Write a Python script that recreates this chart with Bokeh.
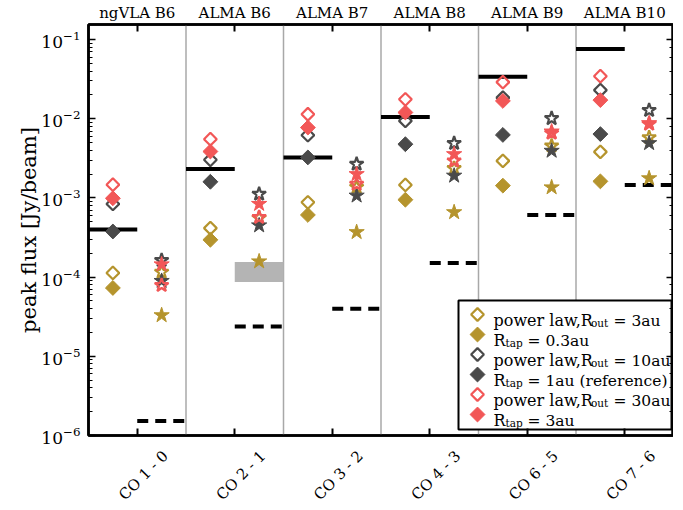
import numpy as np
from bokeh.plotting import figure
from bokeh.models import (Range1d, LinearAxis, LogAxis, FixedTicker, LogTicker,
                          Span, LinearScale)
from bokeh.core.properties import value
from bokeh.embed import file_html
from bokeh.resources import INLINE

# ---------------- data ----------------
bands = ["ngVLA B6", "ALMA B6", "ALMA B7", "ALMA B8", "ALMA B9", "ALMA B10"]
transitions = ["CO 1 - 0", "CO 2 - 1", "CO 3 - 2", "CO 4 - 3", "CO 6 - 5", "CO 7 - 6"]

# diamonds (left column of each group)
pl3_d   = [1.13e-4, 4.16e-4, 8.8e-4, 1.46e-3, 2.94e-3, 3.82e-3]
tap03_d = [7.3e-5, 2.96e-4, 6.1e-4, 9.5e-4, 1.43e-3, 1.62e-3]
pl10_d  = [8.4e-4, 3.03e-3, 6.2e-3, 9.4e-3, 1.85e-2, 2.3e-2]
tap1_d  = [3.77e-4, 1.6e-3, 3.25e-3, 4.77e-3, 6.25e-3, 6.4e-3]
pl30_d  = [1.47e-3, 5.52e-3, 1.14e-2, 1.76e-2, 2.9e-2, 3.45e-2]
tap3_d  = [9.9e-4, 3.86e-3, 7.74e-3, 1.2e-2, 1.68e-2, 1.72e-2]

# stars (right column of each group)
pl3_s   = [1.16e-4, 5.6e-4, 1.37e-3, 2.36e-3, 4.55e-3, 5.8e-3]
tap03_s = [3.3e-5, 1.58e-4, 3.7e-4, 6.6e-4, 1.36e-3, 1.77e-3]
pl10_s  = [1.63e-4, 1.12e-3, 2.68e-3, 4.9e-3, 1.01e-2, 1.28e-2]
tap1_s  = [8.95e-5, 4.5e-4, 1.07e-3, 1.91e-3, 3.94e-3, 4.92e-3]
pl30_s  = [7.9e-5, 5.7e-4, 1.5e-3, 2.95e-3, 6.6e-3, 8.6e-3]
tap3_s  = [1.45e-4, 8.4e-4, 2.0e-3, 3.57e-3, 6.9e-3, 8.77e-3]

# horizontal levels
solid_level  = [4.0e-4, 2.32e-3, 3.25e-3, 1.05e-2, 3.4e-2, 7.6e-2]
dashed_level = [1.52e-6, 2.38e-5, 4.0e-5, 1.51e-4, 6.1e-4, 1.46e-3]

# grey band (CO 2-1 group)
band_group = 1
band_low, band_high = 8.7e-5, 1.55e-4

legend_entries = [("power law,R", "out", "= 3au"),
                  ("R", "tap", "= 0.3au"),
                  ("power law,R", "out", "= 10au"),
                  ("R", "tap", "= 1au (reference)"),
                  ("power law,R", "out", "= 30au"),
                  ("R", "tap", "= 3au")]

# ---------------- style ----------------
FONT = "DejaVu Serif"
GOLD = "#b5942d"
DARK = "#4a4a4a"
RED = "#f25757"
FW, FH = 585, 411

series = [  # (diamond vals, star vals, color, filled)
    (pl3_d, pl3_s, GOLD, False),
    (tap03_d, tap03_s, GOLD, True),
    (pl10_d, pl10_s, DARK, False),
    (tap1_d, tap1_s, DARK, True),
    (pl30_d, pl30_s, RED, False),
    (tap3_d, tap3_s, RED, True),
]

n = len(transitions)
xc = np.arange(n, dtype=float)

p = figure(frame_width=FW, frame_height=FH,
           x_range=Range1d(-0.5, n - 0.5), y_range=Range1d(1e-6, 0.155),
           y_axis_type="log", x_axis_location=None,
           output_backend="svg", toolbar_location=None,
           min_border_left=88, min_border_right=0, min_border_top=18,
           min_border_bottom=70, background_fill_color="white",
           border_fill_color="white")
p.xgrid.visible = False
p.ygrid.visible = False
p.outline_line_color = "black"
p.outline_line_width = 2.5

p.extra_x_ranges = {"lx": Range1d(0, FW)}
p.extra_y_ranges = {"ly": Range1d(FH, 0)}
p.extra_x_scales = {"lx": LinearScale()}
p.extra_y_scales = {"ly": LinearScale()}

# left axis
ya = p.yaxis[0]
ya.axis_label = "peak flux [Jy/beam]"
ya.axis_label_text_font = FONT
ya.axis_label_text_font_size = "21px"
ya.axis_label_text_font_style = "normal"
ya.axis_label_text_color = "black"
ya.axis_label_standoff = -3
ya.major_label_text_font = FONT
ya.major_label_text_font_size = "17px"
ya.major_label_text_color = "black"
ya.major_label_standoff = 8
ya.major_tick_in = 7
ya.major_tick_out = 0
ya.minor_tick_in = 4
ya.minor_tick_out = 0
ya.axis_line_width = 2.5
ya.major_tick_line_width = 1.5

# right axis (ticks only)
ra = LogAxis(ticker=LogTicker(), major_label_text_font_size="1px",
             major_label_text_color=None,
             major_label_standoff=0, major_tick_in=7, major_tick_out=0,
             minor_tick_in=4, minor_tick_out=0, axis_line_width=2.5,
             major_tick_line_width=1.5)
p.add_layout(ra, "right")

# top axis with band names
ta = LinearAxis(ticker=FixedTicker(ticks=list(xc), minor_ticks=[]),
                major_label_overrides={float(i): b for i, b in zip(xc, bands)},
                major_tick_in=7, major_tick_out=0, major_label_standoff=3,
                major_label_text_font=FONT, major_label_text_font_size="15px",
                major_label_text_color="black",
                axis_line_width=2.5, major_tick_line_width=2)
p.add_layout(ta, "above")

# bottom axis: ticks only
ba = LinearAxis(ticker=FixedTicker(ticks=list(xc), minor_ticks=[]),
                major_tick_in=7, major_tick_out=0, major_label_standoff=0,
                major_label_text_font_size="1px", major_label_text_color=None,
                axis_line_width=2.5, major_tick_line_width=2)
p.add_layout(ba, "below")

# bottom axis: rotated transition labels (shifted so they sit as in the original)
LABEL_SHIFT = 0.29
lab_ticks = [float(i) + LABEL_SHIFT for i in range(n)]
bl = LinearAxis(ticker=FixedTicker(ticks=lab_ticks, minor_ticks=[]),
                major_label_overrides={t: s for t, s in zip(lab_ticks, transitions)},
                axis_line_color=None, major_tick_line_color=None,
                minor_tick_line_color=None, major_tick_in=0, major_tick_out=0,
                major_label_standoff=18,
                major_label_orientation=np.pi / 4,
                major_label_text_color="black",
                major_label_text_font=FONT, major_label_text_font_size="15px")
p.add_layout(bl, "below")

# group separators
for b in xc[:-1] + 0.5:
    p.add_layout(Span(location=b, dimension="height", line_color="#a8a8a8",
                      line_width=1.5, level="underlay"))

# grey band
p.quad(left=[xc[band_group]], right=[xc[band_group] + 0.5],
       bottom=[band_low], top=[band_high], fill_color="#b4b4b4",
       line_color=None)

# levels
p.segment(x0=xc - 0.5, x1=xc, y0=solid_level, y1=solid_level,
          line_color="black", line_width=4)
p.segment(x0=xc, x1=xc + 0.5, y0=dashed_level, y1=dashed_level,
          line_color="black", line_width=4, line_dash="11 7")

# markers
for dv, sv, col, filled in series:
    if filled:
        p.scatter(x=xc - 0.25, y=dv, marker="square", angle=np.pi / 4, size=10.5,
                  fill_color=col, line_color=col, line_width=1)
        p.scatter(x=xc + 0.25, y=sv, marker="star", size=16,
                  fill_color=col, line_color=col, line_width=1)
    else:
        p.scatter(x=xc - 0.25, y=dv, marker="square", angle=np.pi / 4, size=9,
                  fill_color=None, line_color=col, line_width=2.2)
        p.scatter(x=xc + 0.25, y=sv, marker="star", size=14.5,
                  fill_color=None, line_color=col, line_width=2.2)

# legend (frame pixel coordinates)
LX0, LX1, LY0, LY1 = 370, 583, 276, 405
p.quad(left=[LX0], right=[LX1], top=[LY0], bottom=[LY1], fill_color="white",
       line_color="black", line_width=2, x_range_name="lx", y_range_name="ly")
for k, ((pre, sub, suf), (_, _, col, filled)) in enumerate(zip(legend_entries, series)):
    ry = 290 + 20 * k
    if filled:
        p.scatter(x=[389], y=[ry], marker="square", angle=np.pi / 4, size=10.5,
                  fill_color=col, line_color=col, line_width=1,
                  x_range_name="lx", y_range_name="ly")
    else:
        p.scatter(x=[389], y=[ry], marker="square", angle=np.pi / 4, size=9,
                  fill_color=None, line_color=col, line_width=2.2,
                  x_range_name="lx", y_range_name="ly")
    long = pre.startswith("power")
    xs_sub = 502.5 if long else 417
    xs_suf = 525 if long else 439
    p.text(x=[405], y=[ry + 6], text=[pre], text_font=value(FONT),
           text_font_size=value("16px"), text_baseline="alphabetic",
           text_align="left", text_color="black",
           x_range_name="lx", y_range_name="ly")
    p.text(x=[xs_sub], y=[ry + 8.5], text=[sub], text_font=value(FONT),
           text_font_size=value("10.5px"), text_baseline="alphabetic",
           text_align="left", text_color="black",
           x_range_name="lx", y_range_name="ly")
    p.text(x=[xs_suf], y=[ry + 6], text=[suf], text_font=value(FONT),
           text_font_size=value("15.5px"), text_baseline="alphabetic",
           text_align="left", text_color="black",
           x_range_name="lx", y_range_name="ly")

open("out.html", "w").write(file_html(p, INLINE))
